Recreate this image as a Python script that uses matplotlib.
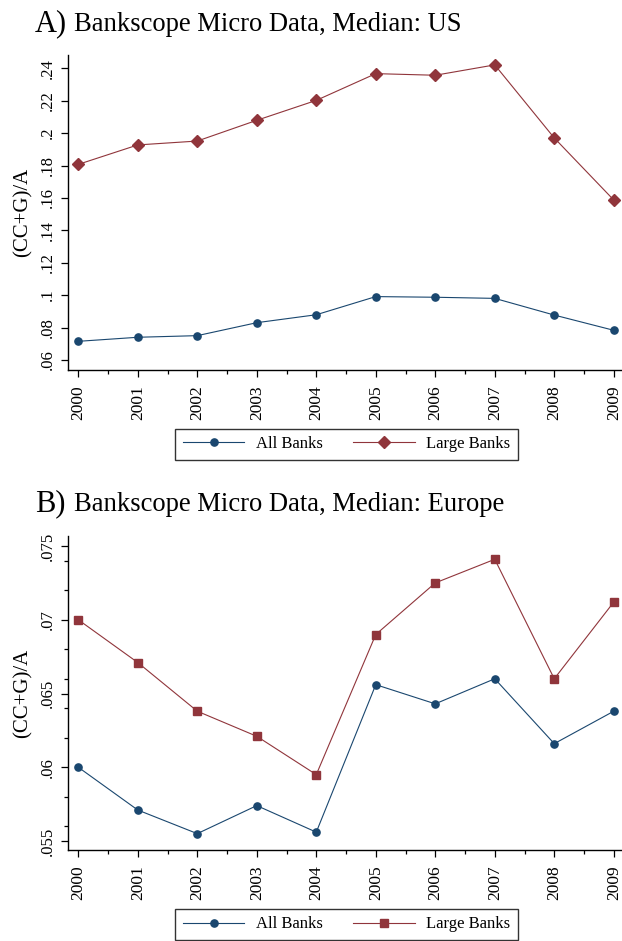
import matplotlib
matplotlib.use("Agg")
from matplotlib import pyplot as plt
from matplotlib.ticker import MultipleLocator
import numpy as np

years = [2000, 2001, 2002, 2003, 2004, 2005, 2006, 2007, 2008, 2009]

# panel A: US medians
us_all = [0.0715, 0.0740, 0.0750, 0.0830, 0.0879, 0.0991, 0.0987, 0.0980, 0.0877, 0.0783]
us_large = [0.1807, 0.1927, 0.1951, 0.2079, 0.2202, 0.2367, 0.2357, 0.2421, 0.1970, 0.1587]

# panel B: Europe medians
eu_all = [0.0600, 0.0571, 0.0555, 0.0574, 0.0556, 0.0656, 0.0643, 0.0660, 0.0616, 0.0638]
eu_large = [0.0700, 0.0671, 0.0638, 0.0621, 0.0595, 0.0690, 0.0725, 0.0741, 0.0660, 0.0712]

us_ticks = [0.06, 0.08, 0.10, 0.12, 0.14, 0.16, 0.18, 0.20, 0.22, 0.24]
us_ticklabels = [".06", ".08", ".1", ".12", ".14", ".16", ".18", ".2", ".22", ".24"]
eu_ticks = [0.055, 0.060, 0.065, 0.070, 0.075]
eu_ticklabels = [".055", ".06", ".065", ".07", ".075"]

navy = "#1a476f"
maroon = "#90353b"

plt.rcParams["font.family"] = ["Liberation Serif", "DejaVu Serif"]

fig = plt.figure(figsize=(6.22, 9.41), dpi=100)
W, H = 622.0, 941.0


def panel(rect, letter, title, title_y, all_vals, large_vals, large_marker, large_ms,
          ticks, ticklabels, ylim, legend_y, minor_y=None):
    ax = fig.add_axes(rect)
    ax.plot(years, all_vals, color=navy, lw=0.8, marker="o", ms=5.2,
            label="All Banks", clip_on=False, zorder=3)
    ax.plot(years, large_vals, color=maroon, lw=0.8, marker=large_marker, ms=large_ms,
            label="Large Banks", clip_on=False, zorder=3)

    ax.set_xlim(1999.832, 2009.12)
    ax.set_ylim(*ylim)
    ax.set_xticks(years)
    ax.set_xticklabels([str(y) for y in years], rotation=90, fontsize=12.5)
    ax.xaxis.set_minor_locator(MultipleLocator(0.5))
    ax.set_yticks(ticks)
    ax.set_yticklabels(ticklabels, rotation=90, va="center", fontsize=12)
    if minor_y is not None:
        ax.set_yticks(minor_y, minor=True)

    for side in ("top", "right"):
        ax.spines[side].set_visible(False)
    for side in ("left", "bottom"):
        ax.spines[side].set_linewidth(1.0)
    ax.tick_params(axis="x", which="major", length=5, width=0.9, pad=6)
    ax.tick_params(axis="y", which="major", length=5, width=0.9, pad=4)
    ax.tick_params(axis="both", which="minor", length=3, width=0.9)

    ax.set_ylabel("(CC+G)/A", fontsize=15, labelpad=5)

    fig.text(35 / W, 1 - (title_y + 2) / H, letter, fontsize=22, va="baseline", ha="left")
    fig.text(74 / W, 1 - (title_y + 2) / H, title, fontsize=19.2, va="baseline", ha="left")

    leg = ax.legend(loc="center", bbox_to_anchor=(346.5 / W, 1 - legend_y / H),
                    bbox_transform=fig.transFigure, ncol=2, fontsize=12,
                    frameon=True, fancybox=False, handlelength=3.7,
                    handletextpad=0.7, columnspacing=1.8, borderpad=0.45)
    leg.get_frame().set_edgecolor("black")
    leg.get_frame().set_linewidth(1.0)
    return ax


panel([68.3 / W, 1 - 370 / H, 552.6 / W, 315 / H], "A)",
      "Bankscope Micro Data, Median: US", 29,
      us_all, us_large, "D", 6.4, us_ticks, us_ticklabels,
      (0.0538, 0.2482), 444)

panel([68.3 / W, 1 - 850 / H, 552.6 / W, 314 / H], "B)",
      "Bankscope Micro Data, Median: Europe", 509,
      eu_all, eu_large, "s", 5.6, eu_ticks, eu_ticklabels,
      (0.05439, 0.07568), 924.5,
      minor_y=[0.056, 0.058, 0.062, 0.064, 0.066, 0.068, 0.072, 0.074])

fig.savefig("out.png", dpi=100)
